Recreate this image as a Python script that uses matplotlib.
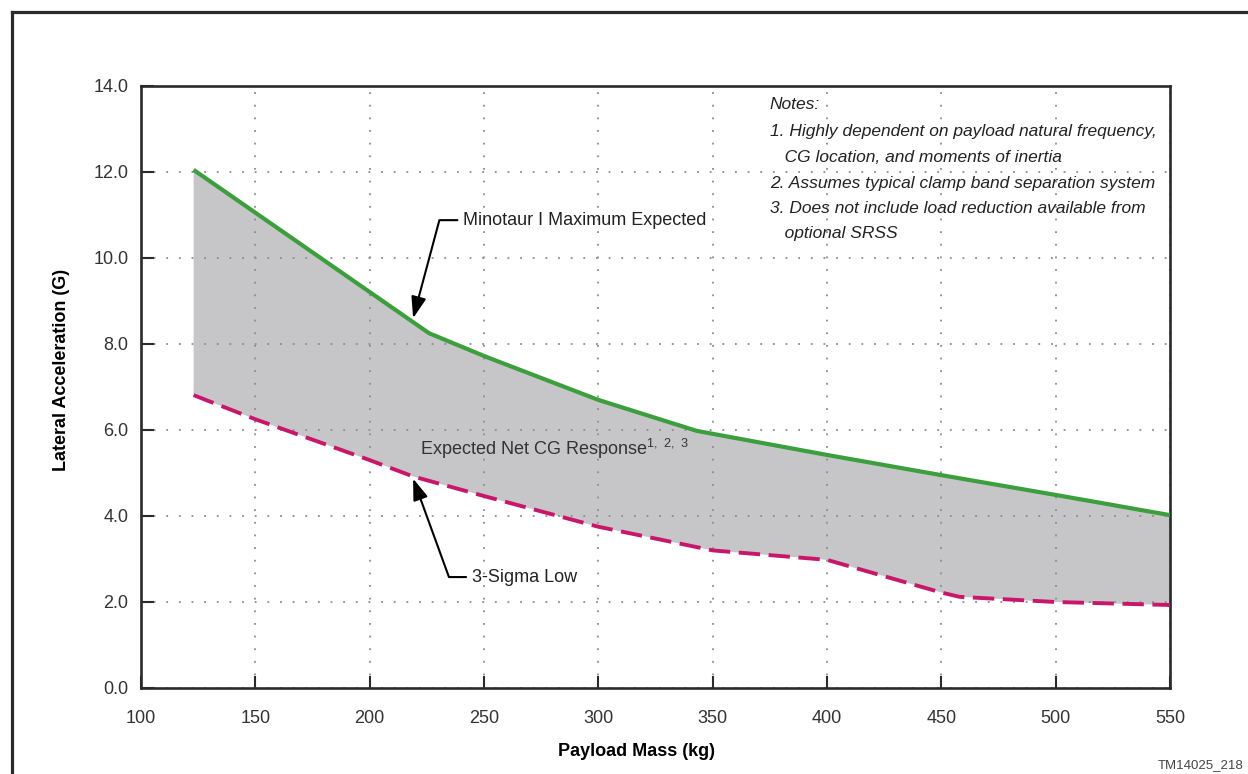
import numpy as np
import matplotlib
matplotlib.use('Agg')
import matplotlib.pyplot as plt
from matplotlib.lines import Line2D

plt.rcParams['font.family'] = ['Liberation Sans', 'DejaVu Sans']
plt.rcParams['mathtext.default'] = 'regular'

# Minotaur I maximum expected lateral acceleration (G) vs payload mass (kg)
mass_max = [123, 226, 251, 300, 343, 400, 450, 500, 550]
accel_max = [12.05, 8.25, 7.70, 6.70, 5.98, 5.42, 4.95, 4.49, 4.02]

# 3-sigma low curve
mass_low = [123, 150, 200, 219, 251, 300, 350, 400, 450, 458, 500, 550]
accel_low = [6.81, 6.25, 5.30, 4.92, 4.45, 3.75, 3.20, 2.98, 2.22, 2.12, 2.00, 1.93]

x_ticks = [100, 150, 200, 250, 300, 350, 400, 450, 500, 550]
y_ticks = [0, 2, 4, 6, 8, 10, 12, 14]

notes = ['Notes:',
         '1. Highly dependent on payload natural frequency,',
         '   CG location, and moments of inertia',
         '2. Assumes typical clamp band separation system',
         '3. Does not include load reduction available from',
         '   optional SRSS']

green = '#3d9e3d'
magenta = '#c8176a'
band = '#c6c6c8'
dark = '#2a2a2a'

fig = plt.figure(figsize=(12.48, 7.74), dpi=100)
ax = fig.add_axes([141/1248, 86/774, 1029/1248, 602/774])

# shaded response band between the two curves
poly_x = np.concatenate([mass_max, mass_low[::-1]])
poly_y = np.concatenate([accel_max, accel_low[::-1]])
ax.fill(poly_x, poly_y, color=band, lw=0, zorder=1)

ax.plot(mass_max, accel_max, color=green, lw=3.0, solid_capstyle='butt', zorder=3)
ax.plot(mass_low, accel_low, color=magenta, lw=2.8, dashes=(5.5, 2.2), zorder=3)

ax.set_xlim(100, 550)
ax.set_ylim(0, 14)
ax.set_xticks(x_ticks)
ax.set_yticks(y_ticks)
ax.set_yticklabels(['%.1f' % v for v in y_ticks])
ax.tick_params(axis='both', direction='in', length=9, width=1.5, color=dark,
               labelsize=13, labelcolor='#333333')
ax.tick_params(axis='x', pad=16)
ax.tick_params(axis='y', pad=9)
ax.grid(True, linestyle=(0, (1, 6)), color='#8c8c8c', linewidth=1.3)

for s in ax.spines.values():
    s.set_linewidth(1.9)
    s.set_color(dark)

ax.set_xlabel('Payload Mass (kg)', fontsize=13, fontweight='bold')
ax.set_ylabel('Lateral Acceleration (G)', fontsize=13, fontweight='bold')
ax.xaxis.set_label_coords((637 - 141) / 1029, (688 - 743) / 602)
ax.yaxis.set_label_coords((70 - 141) / 1029, (688 - 370) / 602)

arrow = dict(arrowstyle='-|>,head_length=1.0,head_width=0.35', color='black',
             lw=1.5, shrinkA=2, shrinkB=0, relpos=(0, 0.5))

ax.annotate('Minotaur I Maximum Expected', xy=(219, 8.6), xytext=(240.8, 10.88),
            ha='left', va='center', fontsize=13, color='#222222',
            arrowprops=dict(arrow, connectionstyle='angle,angleA=0,angleB=75,rad=0'))
ax.annotate('3-Sigma Low', xy=(219, 4.87), xytext=(244.6, 2.58),
            ha='left', va='center', fontsize=13, color='#222222',
            arrowprops=dict(arrow, connectionstyle='angle,angleA=0,angleB=110,rad=0'))
ax.text(222, 5.57, 'Expected Net CG Response$^{1,\\ 2,\\ 3}$', ha='left', va='center',
        fontsize=13, color='#333333', zorder=4)

# notes block, one line at a time
note_y = [13.56, 12.94, 12.34, 11.74, 11.16, 10.58]
for line, yv in zip(notes, note_y):
    ax.text(375, yv, line, ha='left', va='center', fontsize=12.5,
            style='italic', color='#222222', zorder=4)

fig.text(1243 / 1248, 1 - 765 / 774, 'TM14025_218', ha='right', va='center',
         fontsize=9.5, color='#444444')

# page frame on top and left
fig.add_artist(Line2D([12 / 1248, 1.0], [1 - 12 / 774, 1 - 12 / 774],
                      transform=fig.transFigure, color=dark, lw=2.3))
fig.add_artist(Line2D([12 / 1248, 12 / 1248], [1 - 12 / 774, 0.0],
                      transform=fig.transFigure, color=dark, lw=2.3))

fig.savefig('out.png', dpi=100)
